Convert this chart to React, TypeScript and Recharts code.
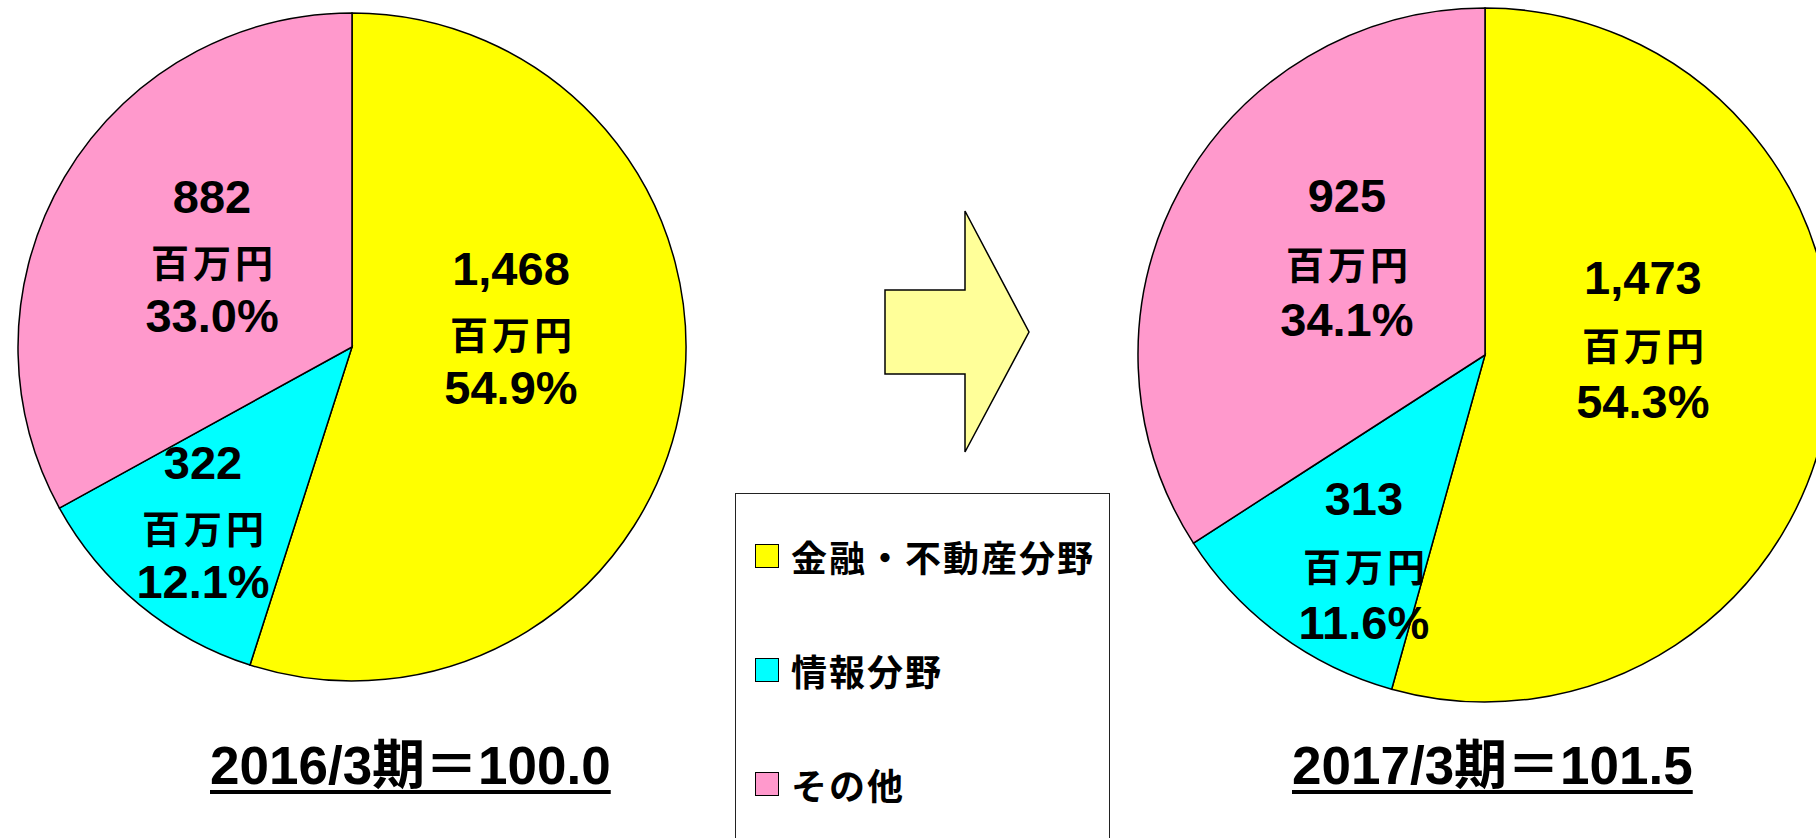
import React from "react";
import { PieChart, Pie, Cell } from "recharts";

// ---- data ----
const categories = ["金融・不動産分野", "情報分野", "その他"];
const colors = ["#FFFF00", "#00FFFF", "#FF99CC"];
const values2016 = [1468, 322, 882];
const values2017 = [1473, 313, 925];
const pct2016 = ["54.9%", "12.1%", "33.0%"];
const pct2017 = ["54.3%", "11.6%", "34.1%"];
const unitLabel = "百万円";
const title2016 = "2016/3期＝100.0";
const title2017 = "2017/3期＝101.5";

// label placement (fraction of radius, relative to pie centre)
const labelPos2016 = [
  [0.476, -0.042],
  [-0.446, 0.536],
  [-0.419, -0.26],
];
const labelPos2017 = [
  [0.455, -0.032],
  [-0.349, 0.605],
  [-0.398, -0.268],
];

const W = 1816;
const H = 838;
const FONT = "'Liberation Sans', Arial, 'Noto Sans CJK JP', sans-serif";

const build = (vals: number[]) =>
  categories.map((name, i) => ({ name, value: vals[i] }));

const data2016 = build(values2016);
const data2017 = build(values2017);

const makeLabel = (pos: number[][], pcts: string[], vals: number[]) => (props: any) => {
  const { cx, cy, outerRadius, index } = props;
  const x = cx + pos[index][0] * outerRadius;
  const y = cy + pos[index][1] * outerRadius;
  const k = outerRadius / 334;
  return (
    <g key={`lbl-${index}`} fontFamily={FONT} fontWeight="bold" fill="#000">
      <text x={x} y={y - 64 * k} textAnchor="middle" dominantBaseline="central" fontSize={47}>
        {vals[index].toLocaleString("en-US")}
      </text>
      <text
        x={x + 2}
        y={y}
        textAnchor="middle"
        dominantBaseline="central"
        fontSize={38}
        letterSpacing={4}
        fontFamily="'Noto Sans CJK JP', sans-serif"
      >
        {unitLabel}
      </text>
      <text x={x} y={y + 55 * k} textAnchor="middle" dominantBaseline="central" fontSize={47}>
        {pcts[index]}
      </text>
    </g>
  );
};

const titleStyle = (left: number): React.CSSProperties => ({
  position: "absolute",
  left,
  top: 735,
  fontFamily: FONT,
  fontWeight: "bold",
  fontSize: 53,
  lineHeight: "62px",
  whiteSpace: "nowrap",
  textDecoration: "underline",
  textDecorationThickness: "4px",
  textUnderlineOffset: "6px",
  color: "#000",
});

export default function App() {
  return (
    <div
      style={{
        position: "absolute",
        left: 0,
        top: 0,
        width: W,
        height: H,
        overflow: "hidden",
        background: "#fff",
      }}
    >
      <PieChart width={W} height={H} margin={{ top: 0, right: 0, bottom: 0, left: 0 }}>
        <Pie
          data={data2016}
          dataKey="value"
          cx={352}
          cy={347}
          outerRadius={334}
          startAngle={90}
          endAngle={-270}
          stroke="#000"
          strokeWidth={1.5}
          isAnimationActive={false}
          labelLine={false}
          label={makeLabel(labelPos2016, pct2016, values2016)}
        >
          {data2016.map((d, i) => (
            <Cell key={d.name} fill={colors[i]} />
          ))}
        </Pie>
        <Pie
          data={data2017}
          dataKey="value"
          cx={1485}
          cy={355}
          outerRadius={347}
          startAngle={90}
          endAngle={-270}
          stroke="#000"
          strokeWidth={1.5}
          isAnimationActive={false}
          labelLine={false}
          label={makeLabel(labelPos2017, pct2017, values2017)}
        >
          {data2017.map((d, i) => (
            <Cell key={d.name} fill={colors[i]} />
          ))}
        </Pie>
      </PieChart>

      {/* arrow */}
      <svg
        width={W}
        height={H}
        style={{ position: "absolute", left: 0, top: 0, pointerEvents: "none" }}
      >
        <polygon
          points="885,290 965,290 965,211 1029,332 965,452 965,374 885,374"
          fill="#FFFF99"
          stroke="#000"
          strokeWidth={1.5}
        />
      </svg>

      {/* legend */}
      <div
        style={{
          position: "absolute",
          left: 735,
          top: 493,
          width: 375,
          height: 400,
          border: "1.5px solid #222",
          background: "#fff",
          boxSizing: "border-box",
        }}
      >
        {categories.map((c, i) => (
          <div
            key={c}
            style={{
              position: "absolute",
              left: 19,
              top: 40 + i * 114,
              height: 44,
              display: "flex",
              alignItems: "center",
              whiteSpace: "nowrap",
            }}
          >
            <div
              style={{
                width: 22,
                height: 22,
                background: colors[i],
                border: "1.5px solid #000",
                marginRight: 12,
              }}
            />
            <span
              style={{
                fontFamily: "'Noto Sans CJK JP', sans-serif",
                fontWeight: "bold",
                fontSize: 36,
                letterSpacing: 2,
                lineHeight: "44px",
                color: "#000",
              }}
            >
              {c}
            </span>
          </div>
        ))}
      </div>

      {/* titles */}
      <div style={titleStyle(210)}>{title2016}</div>
      <div style={titleStyle(1292)}>{title2017}</div>
    </div>
  );
}
